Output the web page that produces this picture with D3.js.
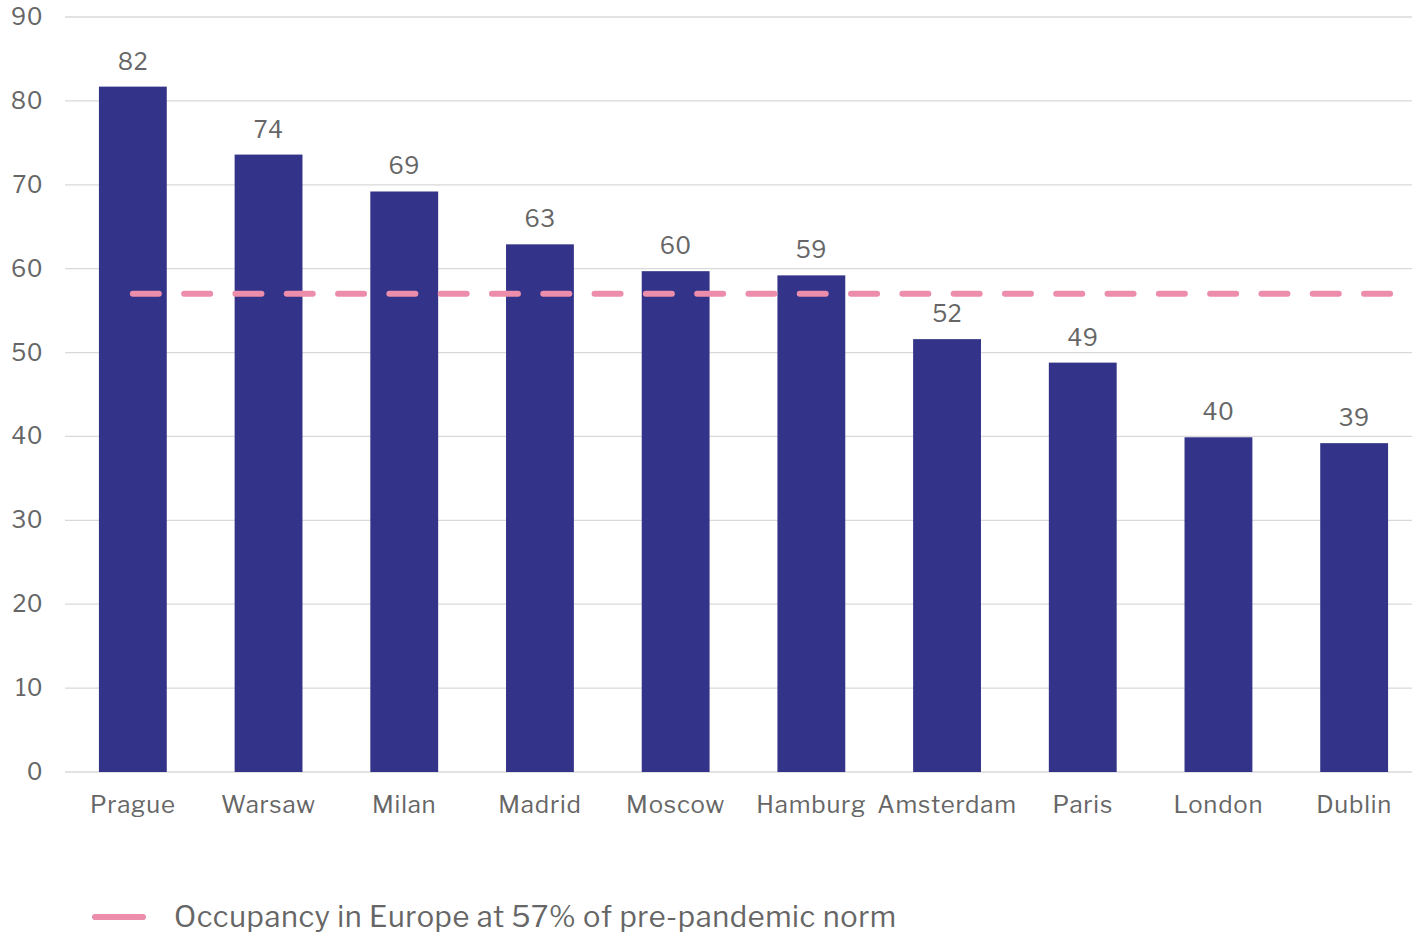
<!DOCTYPE html>
<html>
<head>
<meta charset="utf-8">
<script src="https://cdn.jsdelivr.net/npm/d3@7"></script>
<style>
  body { margin: 0; background: #fff; }
  svg text { font-family: "Libre Franklin", "Liberation Sans", Arial, sans-serif; fill: #666; }
</style>
</head>
<body>
<div id="chart"></div>
<script>
const cities = ['Prague', 'Warsaw', 'Milan', 'Madrid', 'Moscow', 'Hamburg', 'Amsterdam', 'Paris', 'London', 'Dublin']
const occupancy = [81.7, 73.6, 69.2, 62.9, 59.7, 59.2, 51.6, 48.8, 39.9, 39.2]
const yTicks = [0, 10, 20, 30, 40, 50, 60, 70, 80, 90]
const europeAvg = 57
const legendText = 'Occupancy in Europe at 57% of pre-pandemic norm'

const w = 1412
const h = 935

const svg = d3.select('#chart')
  .append('svg')
  .attr('width', w)
  .attr('height', h)

const x = d3.scaleBand()
  .domain(cities)
  .range([65, 1422])
  .paddingInner(0.5)
  .paddingOuter(0.25)

const y = d3.scaleLinear()
  .domain([0, 90])
  .range([772, 17])

// gridlines
svg.append('g')
  .selectAll('line')
  .data(yTicks)
  .enter()
  .append('line')
  .attr('x1', 65)
  .attr('x2', 1412)
  .attr('y1', (d) => y(d))
  .attr('y2', (d) => y(d))
  .attr('stroke', '#d9d9d9')
  .attr('stroke-width', 1.3)

// y tick labels
svg.append('g')
  .selectAll('text')
  .data(yTicks)
  .enter()
  .append('text')
  .attr('x', 43)
  .attr('y', (d) => y(d))
  .attr('dy', '0.35em')
  .attr('text-anchor', 'end')
  .style('font-size', '23px')
  .style('letter-spacing', '0.5px')
  .text((d) => d)

// bars
svg.append('g')
  .selectAll('rect')
  .data(cities)
  .enter()
  .append('rect')
  .attr('x', (d) => x(d))
  .attr('width', x.bandwidth())
  .attr('y', (d, i) => y(occupancy[i]))
  .attr('height', (d, i) => y(0) - y(occupancy[i]))
  .attr('fill', '#333389')

// value labels
svg.append('g')
  .selectAll('text')
  .data(cities)
  .enter()
  .append('text')
  .attr('x', (d) => x(d) + x.bandwidth() / 2)
  .attr('y', (d, i) => y(occupancy[i]) - 17)
  .attr('text-anchor', 'middle')
  .style('font-size', '23px')
  .style('letter-spacing', '0.5px')
  .text((d, i) => Math.round(occupancy[i]))

// category labels
svg.append('g')
  .selectAll('text')
  .data(cities)
  .enter()
  .append('text')
  .attr('x', (d) => x(d) + x.bandwidth() / 2)
  .attr('y', 813)
  .attr('text-anchor', 'middle')
  .style('font-size', '24px')
  .style('letter-spacing', '0.8px')
  .text((d) => d)

// europe average dashed line
svg.append('line')
  .attr('x1', x(cities[0]) + x.bandwidth() / 2)
  .attr('x2', x(cities[cities.length - 1]) + x.bandwidth() + 4)
  .attr('y1', y(europeAvg))
  .attr('y2', y(europeAvg))
  .attr('stroke', '#ec8dab')
  .attr('stroke-width', 6)
  .attr('stroke-linecap', 'round')
  .attr('stroke-dasharray', '26 25.3')

// legend
svg.append('line')
  .attr('x1', 95)
  .attr('x2', 143)
  .attr('y1', 917)
  .attr('y2', 917)
  .attr('stroke', '#ec8dab')
  .attr('stroke-width', 6)
  .attr('stroke-linecap', 'round')

svg.append('text')
  .attr('x', 174)
  .attr('y', 927)
  .style('font-size', '29px')
  .style('letter-spacing', '0.6px')
  .text(legendText)
</script>
</body>
</html>
